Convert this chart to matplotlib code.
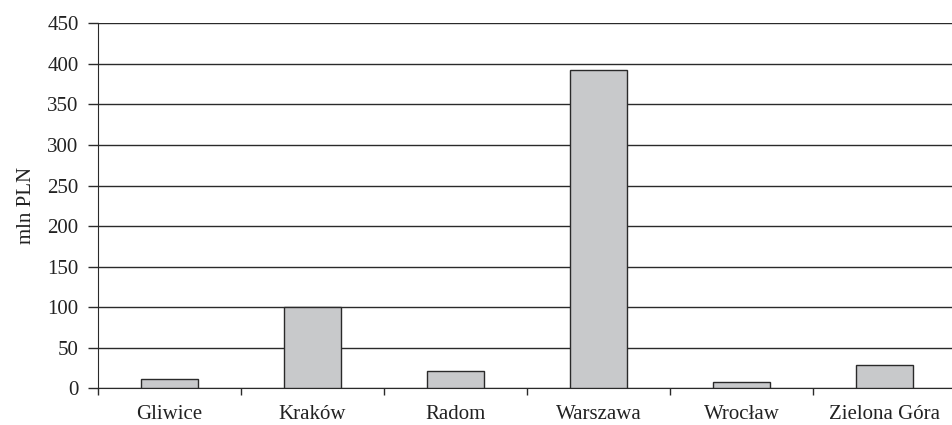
import numpy as np
import matplotlib.pyplot as plt

cities = ['Gliwice', 'Kraków', 'Radom', 'Warszawa', 'Wrocław', 'Zielona Góra']
values = [11, 100, 21, 392, 8, 29]
yticks = [0, 50, 100, 150, 200, 250, 300, 350, 400, 450]

plt.rcParams['font.family'] = ['Liberation Serif', 'DejaVu Serif']

fig = plt.figure(figsize=(9.53, 4.25), dpi=100)
ax = fig.add_axes([0.1028, 0.0864, 0.9003, 0.8588])

x = np.arange(len(cities))
ax.bar(x, values, width=0.4, color='#c8c9cb', edgecolor='#2a2a2a', linewidth=1, zorder=3)

ax.set_xlim(-0.5, len(cities) - 0.5)
ax.set_ylim(0, 450)
ax.set_yticks(yticks)
ax.yaxis.grid(True, color='#2a2a2a', linewidth=1)
ax.set_axisbelow(True)

# ticks between categories, labels in the middle
ax.set_xticks(np.arange(len(cities) + 1) - 0.5)
ax.set_xticklabels([])
ax.set_xticks(x, minor=True)
ax.set_xticklabels(cities, minor=True)
ax.tick_params(axis='x', which='major', direction='out', length=5, width=1, color='#2a2a2a')
ax.tick_params(axis='x', which='minor', length=0, pad=12, labelsize=15, labelcolor='#222222')
ax.tick_params(axis='y', direction='out', length=7, width=1, color='#2a2a2a', labelsize=15, labelcolor='#222222', pad=7)

for s in ['top', 'right']:
    ax.spines[s].set_visible(False)
ax.spines['left'].set_color('#2a2a2a')
ax.spines['bottom'].set_color('#2a2a2a')

ax.set_ylabel('mln PLN', fontsize=15, color='#222222', labelpad=8)

fig.savefig('out.png', dpi=100)
